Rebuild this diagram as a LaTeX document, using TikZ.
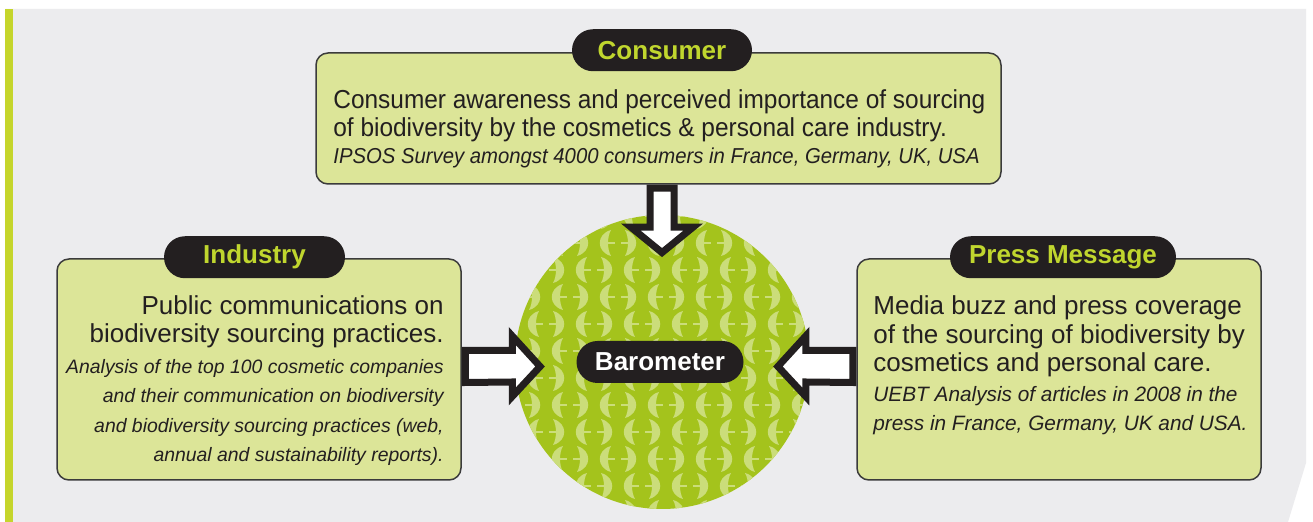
\documentclass[tikz,border=0pt]{standalone}
\usepackage{fontspec}
\setmainfont{Liberation Sans}
\newfontfamily\narrowsans[FakeStretch=0.94]{Liberation Sans}
\usetikzlibrary{positioning,fit,calc}
\definecolor{panelgrey}{HTML}{ECECEE}
\definecolor{limebar}{HTML}{C5D52C}
\definecolor{boxfill}{HTML}{DCE598}
\definecolor{boxline}{HTML}{3B3B3B}
\definecolor{ink}{HTML}{231F20}
\definecolor{tablime}{HTML}{C0D62E}
\definecolor{barogreen}{HTML}{A4C31C}
\definecolor{baromotif}{HTML}{CBDD7A}

\begin{document}
\begin{tikzpicture}[x=0.5pt,y=-0.5pt,line join=round,
  infobox/.style={draw=boxline,line width=0.75pt,fill=boxfill,rounded corners=6pt,inner sep=0pt},
  tab/.style={fill=ink,text=tablime,rounded corners=10.5pt,minimum height=21pt,inner sep=0pt,font=\fontsize{13}{15}\selectfont\bfseries},
  maintext/.style={text=ink,inner sep=0pt,font=\fontsize{13}{14.35}\selectfont},
  srctext/.style={text=ink,inner sep=0pt,font=\fontsize{9.7}{14.75}\selectfont\itshape},
  fatarrow/.style={draw=ink,fill=white,line width=3.5pt,line join=miter}]
\useasboundingbox (0,0) rectangle (1313,522);
\fill[white] (0,0) rectangle (1313,522);
% background panel
\fill[panelgrey] (5,9) -- (1306,9) -- (1306,463) -- (1288,522) -- (5,522) -- cycle;
\fill[limebar] (5,9) rectangle (13,522);

% barometer disc
\node[circle,fill=barogreen,minimum size=147pt,inner sep=0pt] (baro) at (662,362) {};
\begin{scope}
\clip (baro.center) circle (147);
\foreach \r in {0,...,11}{
  \foreach \c in {0,...,7}{
    \pgfmathsetmacro{\mx}{498+48*\c+24*mod(\r,2)}
    \pgfmathsetmacro{\my}{216+27*\r}
    \fill[baromotif] (\mx-7,\my-13) .. controls (\mx-22,\my-9) and (\mx-22,\my+9) .. (\mx-7,\my+13) .. controls (\mx-11,\my+6) and (\mx-11,\my-6) .. cycle;
    \fill[baromotif] (\mx+7,\my-13) .. controls (\mx+22,\my-9) and (\mx+22,\my+9) .. (\mx+7,\my+13) .. controls (\mx+11,\my+6) and (\mx+11,\my-6) .. cycle;
    \draw[baromotif,line width=1pt] (\mx-12,\my) -- (\mx-3,\my) (\mx+3,\my) -- (\mx+12,\my);
  }
}
\end{scope}
\node[tab,text=white,minimum width=83.5pt] (barotag) at (660,362) {Barometer};

% boxes
\node[infobox,fit={(316,53) (1001,184)}] (consumer) {};
\node[infobox,fit={(57,259) (461,480)}] (industry) {};
\node[infobox,fit={(857,259) (1261,480)}] (press) {};

\node[tab,minimum width=90pt] (constab) at ([xshift=1.75pt,yshift=1pt]consumer.north) {Consumer};
\node[tab,minimum width=90.5pt] (indtab) at ([xshift=-2.25pt,yshift=0.5pt]industry.north) {Industry};
\node[tab,minimum width=113pt] (presstab) at ([xshift=2pt,yshift=0.5pt]press.north) {Press Message};

% texts
\node[maintext,font=\narrowsans\fontsize{13}{14}\selectfont,anchor=base west,align=left] (constxt) at (333,137)
  {Consumer awareness and perceived importance of sourcing\\of biodiversity by the cosmetics \& personal care industry.};
\node[srctext,font=\narrowsans\fontsize{10.8}{14}\selectfont\itshape,anchor=base west] (conssrc) at ($(constxt.base west)+(0,27)$)
  {IPSOS Survey amongst 4000 consumers in France, Germany, UK, USA};

\node[maintext,anchor=base east,align=right] (indtxt) at (444,343)
  {Public communications on\\biodiversity sourcing practices.};
\node[srctext,anchor=base east,align=right] (indsrc) at ($(indtxt.base east)+(0,119)$)
  {Analysis of the top 100 cosmetic companies\\and their communication on biodiversity\\and biodiversity sourcing practices (web,\\annual and sustainability reports).};

\node[maintext,anchor=base west,align=left] (presstxt) at (873,372)
  {Media buzz and press coverage\\of the sourcing of biodiversity by\\cosmetics and personal care.};
\node[srctext,font=\fontsize{10.4}{14.5}\selectfont\itshape,anchor=base west,align=left] (presssrc) at ($(presstxt.base west)+(0,59)$)
  {UEBT Analysis of articles in 2008 in the\\press in France, Germany, UK and USA.};

% block arrows
\draw[fatarrow] ($(consumer.south -| baro.north)+(-12,3.5)$) -- ++(0,39) -- ++(-19,0)
  -- ($(baro.north)+(0,38)$) -- ($(consumer.south -| baro.north)+(31,42.5)$) -- ++(-19,0)
  -- ($(consumer.south -| baro.north)+(12,3.5)$) -- cycle;
\draw[fatarrow] ($(industry.east |- baro.center)+(3.5,-11.5)$) -- ++(47,0) -- ++(0,-14.5)
  -- ($(baro.west)+(25.5,4.5)$) -- ($(industry.east |- baro.center)+(50.5,34.5)$) -- ++(0,-14.5)
  -- ($(industry.east |- baro.center)+(3.5,20.5)$) -- cycle;
\draw[fatarrow] ($(press.west |- baro.center)+(-3.5,-11.5)$) -- ++(-47,0) -- ++(0,-14.5)
  -- ($(baro.east)+(-31.5,4.5)$) -- ($(press.west |- baro.center)+(-50.5,34.5)$) -- ++(0,-14.5)
  -- ($(press.west |- baro.center)+(-3.5,20.5)$) -- cycle;
\end{tikzpicture}
\end{document}
